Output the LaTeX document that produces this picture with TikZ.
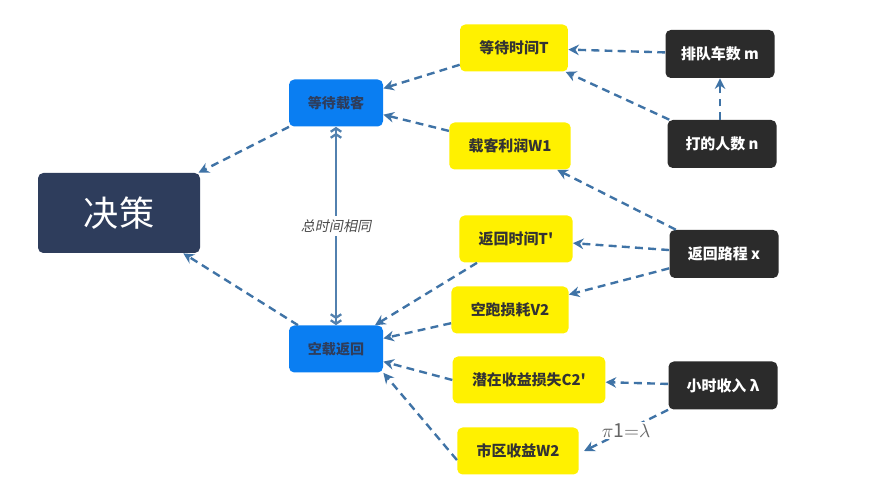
\documentclass[tikz,border=0pt]{standalone}
\usepackage{fontspec}
\setmainfont{Noto Sans CJK SC}
\newfontfamily\slantcjk{Noto Sans CJK SC}[FakeSlant=0.2]
\usepackage{tikz}
\usetikzlibrary{arrows.meta}
\usepackage{xcolor}
\definecolor{navy}{HTML}{2E3D5C}
\definecolor{stateblue}{HTML}{0A7EF2}
\definecolor{factoryel}{HTML}{FFF100}
\definecolor{paramgray}{HTML}{2B2B2B}
\definecolor{edgeblue}{HTML}{3F73A6}

\begin{document}
\begin{tikzpicture}[
        >={Stealth[length=6pt,width=6pt]},
        decision/.style={fill=navy, rounded corners=3pt, text=white,
                         minimum width=3.24cm, minimum height=1.6cm,
                         font=\fontsize{20}{24}\selectfont},
        state/.style={fill=stateblue, rounded corners=3pt, text=navy,
                      minimum width=1.88cm, minimum height=0.94cm,
                      font=\bfseries\fontsize{8}{10}\selectfont},
        factor/.style={fill=factoryel, rounded corners=3pt, text=black!80,
                       minimum width=2.1cm, minimum height=0.94cm, inner xsep=11pt,
                       font=\bfseries\fontsize{8.5}{10}\selectfont},
        param/.style={fill=paramgray, rounded corners=3pt, text=white,
                      minimum width=2.18cm, minimum height=0.96cm,
                      font=\bfseries\fontsize{8.5}{10}\selectfont},
        arr/.style={->, line width=1.35pt, draw=edgeblue, dash pattern=on 4.5pt off 3pt},
        link/.style={line width=1.3pt, draw=edgeblue!90,
                     {Straight Barb[length=2pt,width=6pt]Straight Barb[length=2pt,width=6pt]}-{Straight Barb[length=2pt,width=6pt]Straight Barb[length=2pt,width=6pt]}}
      ]
        \fill[white] (0,0) rectangle (17.86,-9.88);
        \useasboundingbox (0,0) rectangle (17.86,-9.88);

        \node[decision] (decide) at (2.38,-4.26) {决策};

        \node[state] (waitc) at (6.72,-2.06) {等待载客};
        \node[state] (empty) at (6.72,-6.98) {空载返回};

        \node[factor] (waitt)  at (10.28,-0.96) {等待时间T};
        \node[factor] (profit) at (10.20,-2.92) {载客利润W1};
        \node[factor] (rett)   at (10.32,-4.78) {返回时间T\textquotesingle};
        \node[factor] (idle)   at (10.20,-6.20) {空跑损耗V2};
        \node[factor] (loss)   at (10.58,-7.60) {潜在收益损失C2\textquotesingle};
        \node[factor] (city)   at (10.36,-9.02) {市区收益W2};

        \node[param] (queue)  at (14.40,-1.08) {排队车数 m};
        \node[param] (people) at (14.44,-2.88) {打的人数 n};
        \node[param] (dist)   at (14.48,-5.08) {返回路程 x};
        \node[param] (income) at (14.46,-7.71) {小时收入 λ};

        \draw[arr] (waitc) -- (decide);
        \draw[arr] (empty) -- (decide);
        \draw[link] (waitc) -- node[fill=white, text=black!70, inner sep=2pt,
                     font=\slantcjk\fontsize{8}{10}\selectfont] {总时间相同} (empty);

        \draw[arr] (waitt) -- (waitc);
        \draw[arr] (profit) -- (waitc);
        \draw[arr] (queue) -- (waitt);
        \draw[arr] (people) -- (waitt);
        \draw[arr] (people.north -| queue) -- (queue);
        \draw[arr] (dist) -- (profit);
        \draw[arr] (dist) -- (rett);
        \draw[arr] (dist) -- (idle);

        \draw[arr] (rett) -- (empty);
        \draw[arr] (idle) -- (empty);
        \draw[arr] (loss.west) -- (empty);
        \draw[arr] ([yshift=-0.18cm]city.west) -- (empty.south east);
        \draw[arr] (income) -- (loss);
        \draw[arr] (income.south west) -- node[fill=white, text=black!60, inner sep=1pt,
                   font=\fontsize{11}{13}\selectfont] {$\pi\mathit{1}{=}\lambda$} ([xshift=0.1cm]city.east);
      \end{tikzpicture}
\end{document}
